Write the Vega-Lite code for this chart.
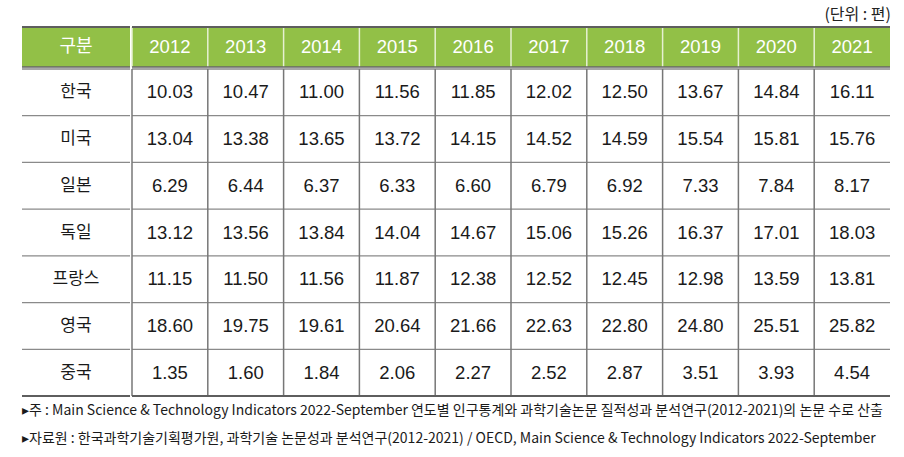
{
  "$schema": "https://vega.github.io/schema/vega-lite/v6.json",
  "padding": {"left": 21, "top": 7, "right": 17, "bottom": 0},
  "background": "white",
  "title": {"text": "(단위 :  편)", "anchor": "end", "fontSize": 16, "fontWeight": "normal", "font": "Noto Sans CJK KR", "color": "#222", "offset": 3},
  "datasets": {
    "years": [{"year": "2012"}, {"year": "2013"}, {"year": "2014"}, {"year": "2015"}, {"year": "2016"}, {"year": "2017"}, {"year": "2018"}, {"year": "2019"}, {"year": "2020"}, {"year": "2021"}],
    "countries": [{"country": "한국"}, {"country": "미국"}, {"country": "일본"}, {"country": "독일"}, {"country": "프랑스"}, {"country": "영국"}, {"country": "중국"}],
    "notes": [
      {"n": 1, "text": "▸주 : Main Science & Technology Indicators 2022-September 연도별 인구통계와 과학기술논문 질적성과 분석연구(2012-2021)의 논문 수로 산출"},
      {"n": 2, "text": "▸자료원 : 한국과학기술기획평가원, 과학기술 논문성과 분석연구(2012-2021) / OECD, Main Science & Technology Indicators 2022-September"}
    ],
    "cells": [
      {"country": "한국", "year": "2012", "value": 10.03}, {"country": "한국", "year": "2013", "value": 10.47}, {"country": "한국", "year": "2014", "value": 11.00}, {"country": "한국", "year": "2015", "value": 11.56}, {"country": "한국", "year": "2016", "value": 11.85}, {"country": "한국", "year": "2017", "value": 12.02}, {"country": "한국", "year": "2018", "value": 12.50}, {"country": "한국", "year": "2019", "value": 13.67}, {"country": "한국", "year": "2020", "value": 14.84}, {"country": "한국", "year": "2021", "value": 16.11},
      {"country": "미국", "year": "2012", "value": 13.04}, {"country": "미국", "year": "2013", "value": 13.38}, {"country": "미국", "year": "2014", "value": 13.65}, {"country": "미국", "year": "2015", "value": 13.72}, {"country": "미국", "year": "2016", "value": 14.15}, {"country": "미국", "year": "2017", "value": 14.52}, {"country": "미국", "year": "2018", "value": 14.59}, {"country": "미국", "year": "2019", "value": 15.54}, {"country": "미국", "year": "2020", "value": 15.81}, {"country": "미국", "year": "2021", "value": 15.76},
      {"country": "일본", "year": "2012", "value": 6.29}, {"country": "일본", "year": "2013", "value": 6.44}, {"country": "일본", "year": "2014", "value": 6.37}, {"country": "일본", "year": "2015", "value": 6.33}, {"country": "일본", "year": "2016", "value": 6.60}, {"country": "일본", "year": "2017", "value": 6.79}, {"country": "일본", "year": "2018", "value": 6.92}, {"country": "일본", "year": "2019", "value": 7.33}, {"country": "일본", "year": "2020", "value": 7.84}, {"country": "일본", "year": "2021", "value": 8.17},
      {"country": "독일", "year": "2012", "value": 13.12}, {"country": "독일", "year": "2013", "value": 13.56}, {"country": "독일", "year": "2014", "value": 13.84}, {"country": "독일", "year": "2015", "value": 14.04}, {"country": "독일", "year": "2016", "value": 14.67}, {"country": "독일", "year": "2017", "value": 15.06}, {"country": "독일", "year": "2018", "value": 15.26}, {"country": "독일", "year": "2019", "value": 16.37}, {"country": "독일", "year": "2020", "value": 17.01}, {"country": "독일", "year": "2021", "value": 18.03},
      {"country": "프랑스", "year": "2012", "value": 11.15}, {"country": "프랑스", "year": "2013", "value": 11.50}, {"country": "프랑스", "year": "2014", "value": 11.56}, {"country": "프랑스", "year": "2015", "value": 11.87}, {"country": "프랑스", "year": "2016", "value": 12.38}, {"country": "프랑스", "year": "2017", "value": 12.52}, {"country": "프랑스", "year": "2018", "value": 12.45}, {"country": "프랑스", "year": "2019", "value": 12.98}, {"country": "프랑스", "year": "2020", "value": 13.59}, {"country": "프랑스", "year": "2021", "value": 13.81},
      {"country": "영국", "year": "2012", "value": 18.60}, {"country": "영국", "year": "2013", "value": 19.75}, {"country": "영국", "year": "2014", "value": 19.61}, {"country": "영국", "year": "2015", "value": 20.64}, {"country": "영국", "year": "2016", "value": 21.66}, {"country": "영국", "year": "2017", "value": 22.63}, {"country": "영국", "year": "2018", "value": 22.80}, {"country": "영국", "year": "2019", "value": 24.80}, {"country": "영국", "year": "2020", "value": 25.51}, {"country": "영국", "year": "2021", "value": 25.82},
      {"country": "중국", "year": "2012", "value": 1.35}, {"country": "중국", "year": "2013", "value": 1.60}, {"country": "중국", "year": "2014", "value": 1.84}, {"country": "중국", "year": "2015", "value": 2.06}, {"country": "중국", "year": "2016", "value": 2.27}, {"country": "중국", "year": "2017", "value": 2.52}, {"country": "중국", "year": "2018", "value": 2.87}, {"country": "중국", "year": "2019", "value": 3.51}, {"country": "중국", "year": "2020", "value": 3.93}, {"country": "중국", "year": "2021", "value": 4.54}
    ]
  },
  "vconcat": [
    {
      "hconcat": [
        {
          "width": 108, "height": 40,
          "data": {"values": [{"h": "구분"}]},
          "layer": [
            {"mark": {"type": "rect", "color": "#92c047"}, "encoding": {"x": {"value": 0}, "x2": {"value": "width"}, "y": {"value": 0}, "y2": {"value": "height"}}},
            {"mark": {"type": "text", "color": "white", "fontSize": 18, "font": "Noto Sans CJK KR"}, "encoding": {"text": {"field": "h"}}},
            {"mark": {"type": "rule", "color": "#5e5e5e", "strokeWidth": 2}, "encoding": {"y": {"value": 0}}},
            {"mark": {"type": "rule", "color": "#666", "strokeWidth": 1.5}, "encoding": {"y": {"value": "height"}}}
          ]
        },
        {
          "width": 758, "height": 40,
          "layer": [
            {"data": {"name": "years"}, "mark": {"type": "rect", "color": "#92c047"}, "encoding": {"x": {"field": "year", "type": "nominal", "axis": null, "scale": {"paddingInner": 0, "paddingOuter": 0}}, "y": {"value": 0}, "y2": {"value": "height"}}},
            {"data": {"name": "years"}, "mark": {"type": "rule", "color": "#e6f0d2", "strokeWidth": 1.5}, "encoding": {"x": {"field": "year", "type": "nominal", "bandPosition": 0, "axis": null}}},
            {"data": {"name": "years"}, "mark": {"type": "text", "color": "white", "fontSize": 18.5, "font": "Liberation Sans"}, "encoding": {"x": {"field": "year", "type": "nominal", "axis": null}, "text": {"field": "year"}}},
            {"data": {"values": [{}]}, "mark": {"type": "rule", "color": "#5e5e5e", "strokeWidth": 2}, "encoding": {"y": {"value": 0}}},
            {"data": {"values": [{}]}, "mark": {"type": "rule", "color": "#666", "strokeWidth": 1.5}, "encoding": {"y": {"value": "height"}}}
          ]
        }
      ],
      "spacing": 0
    },
    {
      "hconcat": [
        {
          "width": 108, "height": 327,
          "layer": [
            {"data": {"name": "countries"}, "mark": {"type": "rule", "color": "#8a8a8a", "strokeWidth": 1.3}, "encoding": {"y": {"field": "country", "type": "nominal", "sort": null, "bandPosition": 0, "axis": null, "scale": {"paddingInner": 0, "paddingOuter": 0}}}},
            {"data": {"name": "countries"}, "mark": {"type": "text", "color": "#1a1a1a", "fontSize": 17, "font": "Noto Sans CJK KR"}, "encoding": {"y": {"field": "country", "type": "nominal", "sort": null, "axis": null}, "text": {"field": "country"}}},
            {"data": {"values": [{}]}, "mark": {"type": "rule", "color": "#5e5e5e", "strokeWidth": 2}, "encoding": {"y": {"value": "height"}}}
          ]
        },
        {
          "width": 758, "height": 327,
          "layer": [
            {"data": {"name": "countries"}, "mark": {"type": "rule", "color": "#8a8a8a", "strokeWidth": 1.3}, "encoding": {"y": {"field": "country", "type": "nominal", "sort": null, "bandPosition": 0, "axis": null, "scale": {"paddingInner": 0, "paddingOuter": 0}}}},
            {"data": {"name": "years"}, "mark": {"type": "rule", "color": "#777", "strokeWidth": 1.5}, "encoding": {"x": {"field": "year", "type": "nominal", "bandPosition": 0, "axis": null, "scale": {"paddingInner": 0, "paddingOuter": 0}}}},
            {"data": {"name": "cells"}, "mark": {"type": "text", "color": "#1a1a1a", "fontSize": 18.5, "font": "Liberation Sans"}, "encoding": {"x": {"field": "year", "type": "nominal", "axis": null}, "y": {"field": "country", "type": "nominal", "sort": null, "axis": null}, "text": {"field": "value", "type": "quantitative", "format": ".2f"}}},
            {"data": {"values": [{}]}, "mark": {"type": "rule", "color": "#5e5e5e", "strokeWidth": 2}, "encoding": {"y": {"value": "height"}}}
          ]
        }
      ],
      "spacing": 0
    },
    {
      "width": 866, "height": 56,
      "data": {"name": "notes"},
      "mark": {"type": "text", "align": "left", "color": "#1a1a1a", "fontSize": 14, "font": "Noto Sans CJK KR"},
      "encoding": {"x": {"value": 0}, "y": {"field": "n", "type": "ordinal", "axis": null, "scale": {"paddingInner": 0, "paddingOuter": 0}}, "text": {"field": "text"}}
    }
  ],
  "spacing": 0,
  "config": {"view": {"stroke": null}}
}
